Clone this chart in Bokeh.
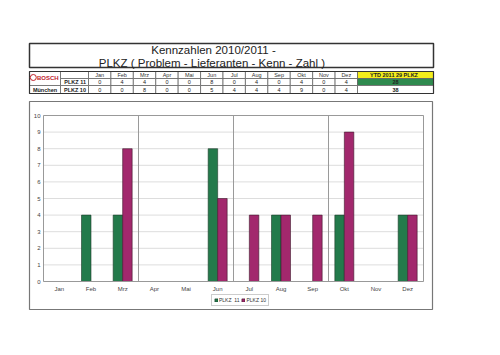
from bokeh.plotting import figure
from bokeh.models import Range1d, Legend, LegendItem, FixedTicker, ColumnDataSource
from bokeh.transform import dodge
from bokeh.core.properties import value
from bokeh.embed import file_html
from bokeh.resources import INLINE

months = ["Jan", "Feb", "Mrz", "Apr", "Mai", "Jun", "Jul", "Aug", "Sep", "Okt", "Nov", "Dez"]
plkz11 = [0, 4, 4, 0, 0, 8, 0, 4, 0, 4, 0, 4]
plkz10 = [0, 0, 8, 0, 0, 5, 4, 4, 4, 9, 0, 4]
series_names = ["PLKZ  11", "PLKZ 10"]
row_labels = ["PLKZ  11", "PLKZ  10"]
title_lines = ["Kennzahlen 2010/2011 -", "PLKZ  ( Problem - Lieferanten - Kenn - Zahl )"]
ytd_label = "YTD 2011   29 PLKZ"
yticks = list(range(0, 11))
quarters = [3, 6, 9]

GREEN = "#237a4b"
MAGENTA = "#a2286d"
FONT = "Liberation Sans"

# page geometry (pixels)
W, H = 500, 355
PL, PR, PT, PB = 43, 423, 115, 281   # plot area
YMAX = 10
n = len(months)
cw = (PR - PL) / n
uy = (PB - PT) / YMAX
centers = [i + 0.5 for i in range(n)]

p = figure(width=W, height=H,
           x_range=Range1d(-PL / cw, (W - PL) / cw),
           y_range=Range1d(-(H - PB) / uy, YMAX + PT / uy),
           output_backend="svg", toolbar_location=None,
           min_border=0, min_border_left=0, min_border_top=0, min_border_bottom=0,
           min_border_right=0)
p.extra_x_ranges = {"px": Range1d(0, W)}
p.extra_y_ranges = {"py": Range1d(H, 0)}
p.outline_line_color = None
p.xgrid.visible = False
p.ygrid.visible = False
p.background_fill_color = "white"
p.border_fill_color = "white"

PX = dict(x_range_name="px", y_range_name="py")

# chart box
p.quad(left=[29], right=[432], top=[101], bottom=[309], fill_color="white",
       line_color="#777777", line_width=1.2, **PX)

# horizontal gridlines + quarter separators (data coords)
p.segment(x0=[0] * len(yticks), x1=[n] * len(yticks), y0=yticks, y1=yticks,
          line_color="#dddddd", line_width=1)
p.segment(x0=quarters, x1=quarters, y0=[0] * 3, y1=[YMAX] * 3,
          line_color="#9a9a9a", line_width=1)

src = ColumnDataSource(dict(month=months, x=centers, plkz11=plkz11, plkz10=plkz10))
r11 = p.vbar(x=dodge("x", -0.15), top="plkz11", width=0.3,
             source=src, fill_color=GREEN, line_color="#1c3a2a", line_width=0.6)
r10 = p.vbar(x=dodge("x", 0.15), top="plkz10", width=0.3,
             source=src, fill_color=MAGENTA, line_color="#3e1a2c", line_width=0.6)

p.quad(left=[0], right=[n], bottom=[0], top=[YMAX], fill_color=None,
       line_color="#999999", line_width=1)

# axes drawn at fixed locations inside the frame
xa, ya = p.xaxis[0], p.yaxis[0]
xa.fixed_location = 0
ya.fixed_location = 0
xa.ticker = FixedTicker(ticks=centers)
xa.major_label_overrides = {c: m for c, m in zip(centers, months)}
ya.ticker = FixedTicker(ticks=yticks)
for ax in (xa, ya):
    ax.axis_line_color = None
    ax.major_tick_line_color = None
    ax.minor_tick_line_color = None
    ax.major_tick_out = 0
    ax.major_tick_in = 0
    ax.minor_tick_out = 0
    ax.major_label_text_font = FONT
    ax.major_label_text_font_size = "6px"
    ax.major_label_text_color = "#444444"
ya.major_label_standoff = 3
xa.major_label_standoff = 4

legend = Legend(items=[LegendItem(label=series_names[0], renderers=[r11]),
                       LegendItem(label=series_names[1], renderers=[r10])],
                orientation="horizontal", location=(211, H - 306),
                label_text_font=FONT, label_text_font_size="5px",
                label_text_color="#333333", glyph_width=4, glyph_height=4,
                label_standoff=1, spacing=2, padding=2, margin=0,
                border_line_color="#999999", label_height=5, label_width=10)
p.add_layout(legend, "center")

# ---------------- header: title + table ----------------
TF = value(FONT)
p.quad(left=[29], right=[433], top=[43], bottom=[67], fill_color="white",
       line_color="#333333", line_width=1.5, **PX)
p.text(x=[213, 213], y=[49.5, 62], text=title_lines, text_align="center",
       text_baseline="middle", text_font=TF, text_font_size="11.5px",
       text_color="#222222", **PX)

r = [71, 78, 85, 93]
mx0, mx1 = 88, 357
mw = (mx1 - mx0) / 12
mcols = [mx0 + i * mw for i in range(13)]
ry = [(r[k] + r[k + 1]) / 2 + 0.3 for k in range(3)]

L, R, T, B = [29, 29], [60, 60], [r[0], r[2]], [r[2], r[3]]
for k in range(3):
    L.append(60); R.append(88); T.append(r[k]); B.append(r[k + 1])
    for i in range(12):
        L.append(mcols[i]); R.append(mcols[i + 1]); T.append(r[k]); B.append(r[k + 1])
p.quad(left=L, right=R, top=T, bottom=B, fill_color="white", line_color="#666666",
       line_width=0.8, **PX)
p.quad(left=[357] * 3, right=[433] * 3, top=r[0:3], bottom=r[1:4],
       fill_color=["#f4ee1c", "#2f8a4f", "white"], line_color="#666666", line_width=0.8, **PX)
p.quad(left=[29], right=[433], top=[r[0]], bottom=[r[3]], fill_color=None,
       line_color="#333333", line_width=1.2, **PX)

cx = [(mcols[i] + mcols[i + 1]) / 2 for i in range(12)]
common = dict(text_align="center", text_baseline="middle", text_font=TF,
              text_font_size="5.5px", **PX)
p.text(x=cx, y=[ry[0]] * 12, text=months, text_color="#333333", **common)
p.text(x=cx, y=[ry[1]] * 12, text=[str(v) for v in plkz11], text_color="#222222", **common)
p.text(x=cx, y=[ry[2]] * 12, text=[str(v) for v in plkz10], text_color="#222222", **common)
p.text(x=[395, 395, 395], y=ry, text=[ytd_label, str(sum(plkz11)), str(sum(plkz10))],
       text_color="#222222", text_font_style="bold", **common)
p.text(x=[87, 87], y=[ry[1], ry[2]], text=row_labels, text_align="right",
       text_baseline="middle", text_font=TF, text_font_size="5.5px",
       text_font_style="bold", text_color="#222222", **PX)

# BOSCH logo + location
p.scatter(x=[32.8], y=[77], size=6, marker="circle", fill_color="white",
          line_color="#c0202a", line_width=1, **PX)
p.text(x=[36.5], y=[77.3], text=["BOSCH"], text_align="left", text_baseline="middle",
       text_font=TF, text_font_size="6px", text_font_style="bold", text_color="#c0202a", **PX)
p.text(x=[44.5], y=[ry[2]], text=["München"], text_align="center", text_baseline="middle",
       text_font=TF, text_font_size="5.5px", text_font_style="bold", text_color="#222222", **PX)

open("out.html", "w").write(file_html(p, INLINE))
